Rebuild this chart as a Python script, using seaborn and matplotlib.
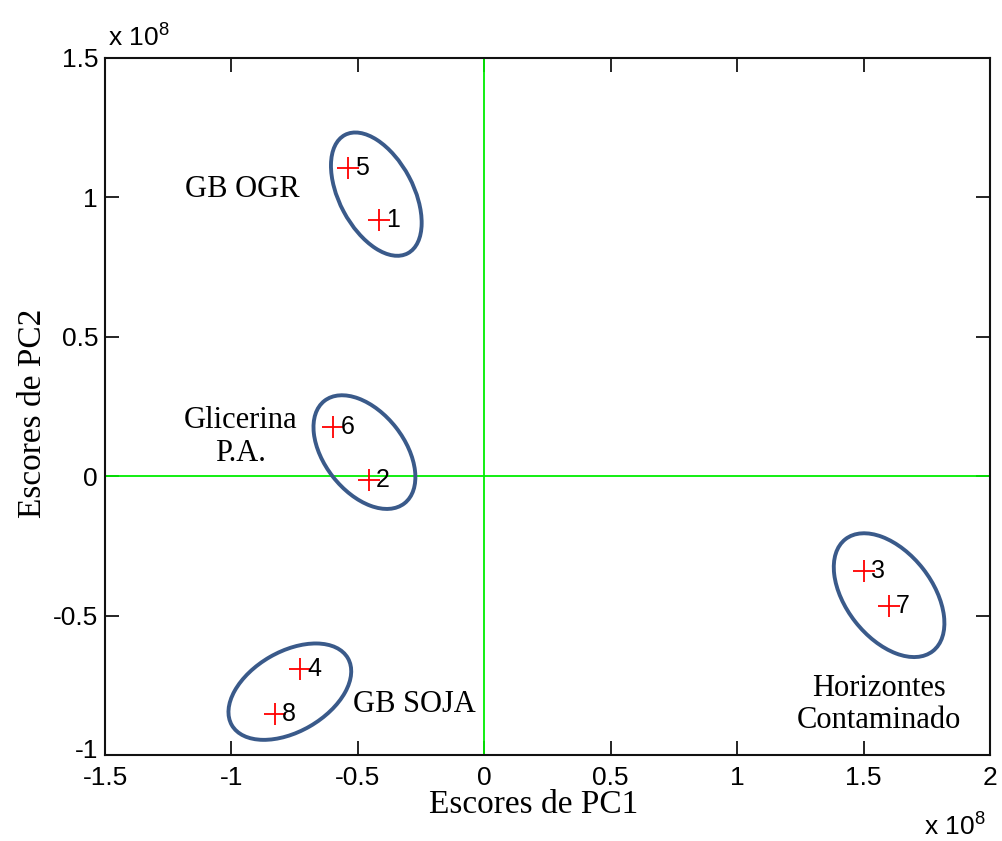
import matplotlib
matplotlib.use("Agg")
import matplotlib.pyplot as plt
from matplotlib.patches import Ellipse
from matplotlib.transforms import ScaledTranslation
import seaborn as sns
import pandas as pd

# PCA scores (units of 1e8)
samples = ["1", "2", "3", "4", "5", "6", "7", "8"]
pc1 = [-0.415, -0.455, 1.503, -0.728, -0.540, -0.597, 1.601, -0.826]
pc2 = [0.918, -0.014, -0.341, -0.692, 1.105, 0.176, -0.466, -0.854]

# group outlines: centre (data units), semi-axes (pixels), tilt (deg)
group_names = ["GB OGR", "Glicerina\nP.A.", "GB SOJA", "Horizontes\nContaminado"]
group_cx = [-0.427, -0.474, -0.769, 1.601]
group_cy = [1.011, 0.086, -0.773, -0.427]
group_a = [67, 65, 67, 71]
group_b = [37, 40, 40, 43]
group_angle = [-62, -52, 30, -52]
label_x = [-0.957, -0.965, -0.277, 1.562]
label_y = [1.026, 0.14, -0.818, -0.818]

x_ticks = [-1.5, -1, -0.5, 0, 0.5, 1, 1.5, 2]
y_ticks = [-1, -0.5, 0, 0.5, 1, 1.5]

sns.set_style("white")
plt.rcParams["mathtext.default"] = "regular"
plt.rcParams["text.color"] = "black"
plt.rcParams["axes.labelcolor"] = "black"

df = pd.DataFrame({"PC1": pc1, "PC2": pc2, "amostra": samples})

fig = plt.figure(figsize=(10.02, 8.41), dpi=100)
ax = fig.add_axes([0.1048, 0.1023, 0.8832, 0.8290])

ax.axhline(0, color="#00ee00", lw=1.3, zorder=1)
ax.axvline(0, color="#00ee00", lw=1.3, zorder=1)

sns.scatterplot(data=df, x="PC1", y="PC2", marker="+", s=240, color="red",
                linewidth=1.3, ax=ax, zorder=3, legend=False)

sans = ["Liberation Sans", "DejaVu Sans"]
serif = ["Liberation Serif", "DejaVu Serif"]

for sx, sy, name in zip(pc1, pc2, samples):
    ax.annotate(name, (sx, sy), xytext=(5, 0), textcoords="offset points",
                ha="left", va="center", fontsize=18, family=sans,
                color="black", zorder=4)

for cx, cy, a, b, ang in zip(group_cx, group_cy, group_a, group_b, group_angle):
    tr = fig.dpi_scale_trans + ScaledTranslation(cx, cy, ax.transData)
    ax.add_patch(Ellipse((0, 0), 2 * a / 100, 2 * b / 100, angle=ang,
                         transform=tr, fill=False, ec="#3a5a8a", lw=2.8,
                         zorder=2))

for lx, ly, name in zip(label_x, label_y, group_names):
    ax.text(lx, ly, name, ha="center", va="center", fontsize=22,
            family=serif, color="black", linespacing=1.15)

ax.set_xlim(-1.5, 2)
ax.set_ylim(-1, 1.5)
ax.set_xticks(x_ticks)
ax.set_yticks(y_ticks)
ax.set_xticklabels([f"{v:g}" for v in x_ticks], family=sans, fontsize=19)
ax.set_yticklabels([f"{v:g}" for v in y_ticks], family=sans, fontsize=19)
ax.tick_params(axis="x", pad=8)
ax.tick_params(axis="y", pad=5)
ax.tick_params(direction="in", length=10, width=1.2, top=True, right=True,
               bottom=True, left=True, colors="black", labelcolor="black")
for sp in ax.spines.values():
    sp.set_visible(True)
    sp.set_color("#111111")
    sp.set_linewidth(1.5)

# lift the bottom y tick label clear of the first x tick label
low = ax.get_yticklabels()[0]
low.set_transform(low.get_transform()
                  + ScaledTranslation(0, 6 / 100, fig.dpi_scale_trans))

ax.set_xlabel("Escores de PC1", family=serif, fontsize=24, color="black")
ax.set_ylabel("Escores de PC2", family=serif, fontsize=24, color="black")
ax.xaxis.set_label_coords(0.484, -0.050)
ax.yaxis.set_label_coords(-0.064, 0.49)

fig.text(0.108, 0.955, r"x 10$^{8}$", family=sans, fontsize=19,
         ha="left", va="center", color="black")
fig.text(0.922, 0.017, r"x 10$^{8}$", family=sans, fontsize=19,
         ha="left", va="center", color="black")

fig.savefig("out.png", dpi=100)
